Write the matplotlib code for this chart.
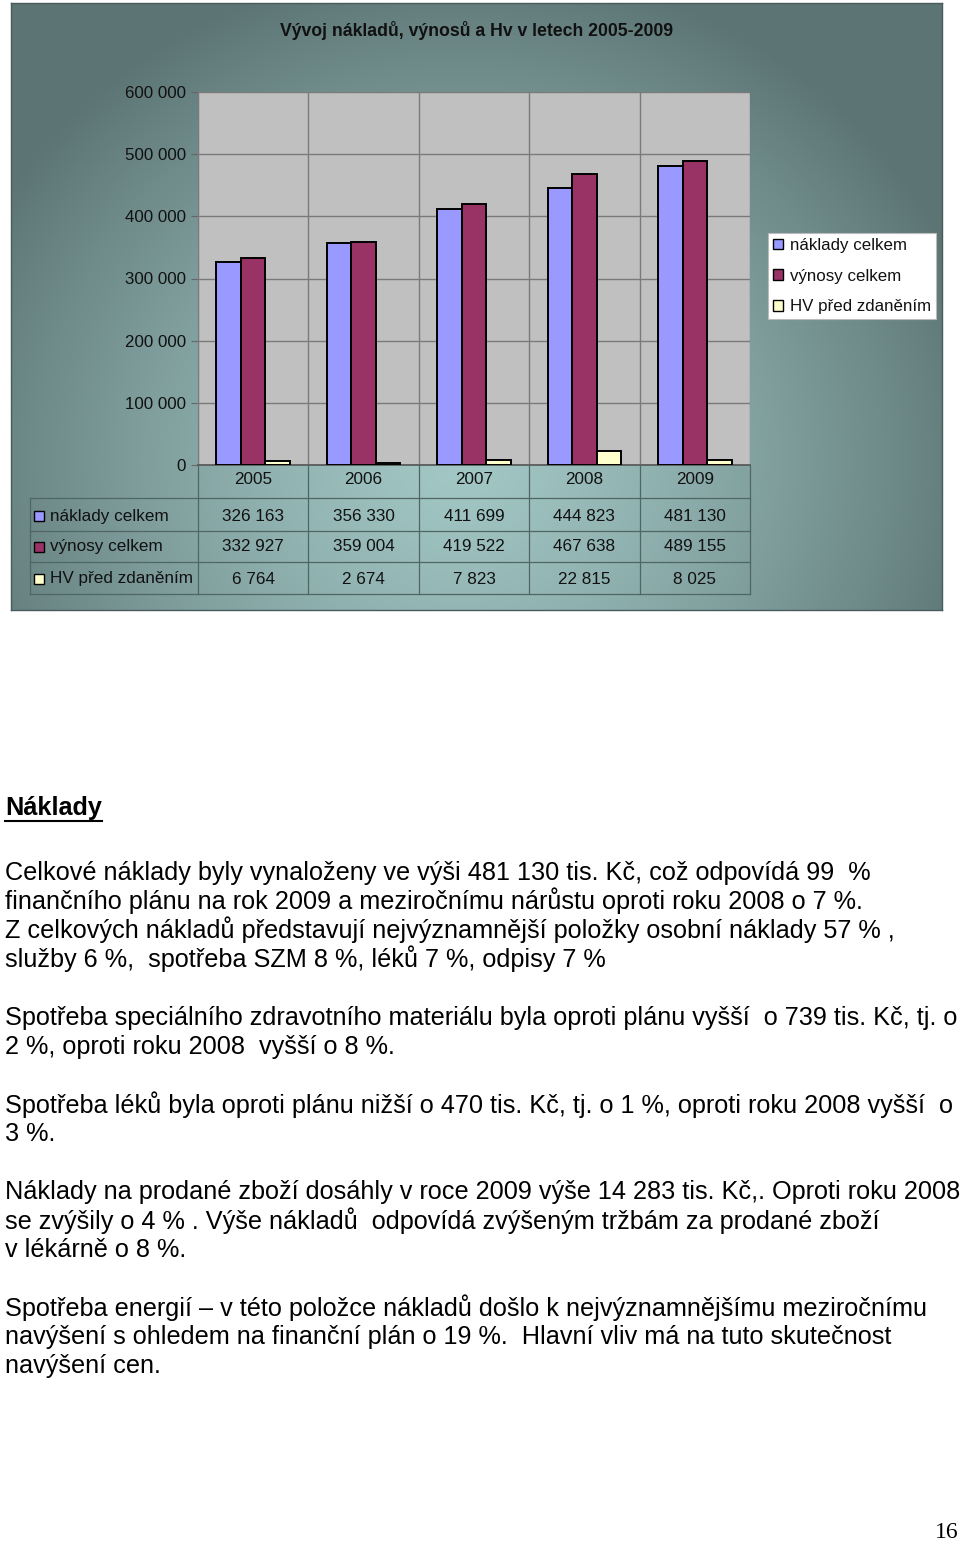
import numpy as np
import matplotlib
matplotlib.use("Agg")
import matplotlib.pyplot as plt
from matplotlib import font_manager
from matplotlib.transforms import blended_transform_factory
from matplotlib.patches import Rectangle

# ---------------- data ----------------
years = ["2005", "2006", "2007", "2008", "2009"]
naklady = [326163, 356330, 411699, 444823, 481130]
vynosy = [332927, 359004, 419522, 467638, 489155]
hv = [6764, 2674, 7823, 22815, 8025]
series_names = ["náklady celkem", "výnosy celkem", "HV před zdaněním"]
series_colors = ["#9999FF", "#993366", "#FFFFCC"]
y_ticks = [0, 100000, 200000, 300000, 400000, 500000, 600000]
title = "Vývoj nákladů, výnosů a Hv v letech 2005-2009"

heading = "Náklady"
paragraphs = [
    ["Celkové náklady byly vynaloženy ve výši 481 130 tis. Kč, což odpovídá 99  %",
     "finančního plánu na rok 2009 a meziročnímu nárůstu oproti roku 2008 o 7 %.",
     "Z celkových nákladů představují nejvýznamnější položky osobní náklady 57 % ,",
     "služby 6 %,  spotřeba SZM 8 %, léků 7 %, odpisy 7 %"],
    ["Spotřeba speciálního zdravotního materiálu byla oproti plánu vyšší  o 739 tis. Kč, tj. o",
     "2 %, oproti roku 2008  vyšší o 8 %."],
    ["Spotřeba léků byla oproti plánu nižší o 470 tis. Kč, tj. o 1 %, oproti roku 2008 vyšší  o",
     "3 %."],
    ["Náklady na prodané zboží dosáhly v roce 2009 výše 14 283 tis. Kč,. Oproti roku 2008",
     "se zvýšily o 4 % . Výše nákladů  odpovídá zvýšeným tržbám za prodané zboží",
     "v lékárně o 8 %."],
    ["Spotřeba energií – v této položce nákladů došlo k nejvýznamnějšímu meziročnímu",
     "navýšení s ohledem na finanční plán o 19 %.  Hlavní vliv má na tuto skutečnost",
     "navýšení cen."],
]
page_number = "16"

# ---------------- fonts ----------------
names = {f.name for f in font_manager.fontManager.ttflist}
SANS = "Liberation Sans" if "Liberation Sans" in names else "DejaVu Sans"
NARROW = "Liberation Sans Narrow" if "Liberation Sans Narrow" in names else SANS
SERIF = "Liberation Serif" if "Liberation Serif" in names else "DejaVu Serif"
plt.rcParams["font.family"] = [SANS, "DejaVu Sans"]

W, H = 960, 1544
fig = plt.figure(figsize=(W / 100, H / 100), dpi=100)
fig.patch.set_facecolor("white")


def fx(px):
    return px / W


def fy(py):
    return 1 - py / H


# ---------------- chart frame with gradient ----------------
fl, ft, fr, fb = 11, 3, 942, 610
bg = fig.add_axes([fx(fl), fy(fb), fx(fr - fl), (fb - ft) / H])
gx = np.linspace(fl, fr, 400)
gy = np.linspace(ft, fb, 300)
GX, GY = np.meshgrid(gx, gy)
d = np.sqrt(((GX - 460) / 540) ** 2 + ((GY - 460) / 500) ** 2)
d = np.clip(d, 0, 1) ** 1.3
c_in = np.array([0xA2, 0xC7, 0xC5]) / 255
c_out = np.array([0x5C, 0x75, 0x74]) / 255
img = c_in[None, None, :] * (1 - d[..., None]) + c_out[None, None, :] * d[..., None]
bg.imshow(img, extent=[0, 1, 0, 1], aspect="auto", origin="upper")
bg.set_xlim(0, 1)
bg.set_ylim(0, 1)
bg.set_xticks([])
bg.set_yticks([])
for s in bg.spines.values():
    s.set_color("#4a5a5a")
    s.set_linewidth(1.0)

fig.text(fx(477), fy(31), title, ha="center", va="center", fontsize=12.7,
         fontweight="bold", family=[NARROW, "DejaVu Sans"], color="#111111")

# ---------------- bar plot ----------------
pl, pt, pr, pb = 198, 92, 750, 465
ax = fig.add_axes([fx(pl), fy(pb), fx(pr - pl), (pb - pt) / H])
ax.set_facecolor("#C0C0C0")
x = np.arange(len(years))
bw = 0.222
for i, (vals, col) in enumerate(zip([naklady, vynosy, hv], series_colors)):
    ax.bar(x + (i - 1) * bw, vals, width=bw, color=col, edgecolor="black",
           linewidth=1.4, zorder=3, label=series_names[i])
ax.set_xlim(-0.5, len(years) - 0.5)
ax.set_ylim(0, 600000)
ax.set_yticks(y_ticks)
ax.set_yticklabels([f"{v:,}".replace(",", " ") for v in y_ticks])
ax.tick_params(axis="y", length=5, color="#666666", labelsize=12.2, pad=3.5,
               labelcolor="#111111")
ax.set_xticks([])
ax.grid(axis="y", color="#7a7a7a", linewidth=1.0, zorder=1)
for b in np.arange(-0.5, len(years), 1.0):
    ax.axvline(b, color="#7a7a7a", linewidth=1.0, zorder=1)
for s in ["top", "right"]:
    ax.spines[s].set_visible(False)
ax.spines["left"].set_color("#7a7a7a")
ax.spines["bottom"].set_color("#555555")
ax.spines["bottom"].set_linewidth(1.2)

# ---------------- data table under plot ----------------
tr = blended_transform_factory(ax.transData, fig.transFigure)
tf = fig.transFigure
year_y = 480
row_y = [516, 547, 579]
line_y = [498, 531, 562, 594]
tab_left = 30
for xi, yr in zip(x, years):
    fig.text(xi, fy(year_y), yr, transform=tr, ha="center", va="center",
             fontsize=12.3, color="#111111")
for r, vals in enumerate([naklady, vynosy, hv]):
    for xi, v in zip(x, vals):
        fig.text(xi, fy(row_y[r]), f"{v:,}".replace(",", " "), transform=tr,
                 ha="center", va="center", fontsize=12.3, color="#111111")
    fig.patches.append(Rectangle((fx(34), fy(row_y[r] + 5)), fx(10), 10 / H,
                                 transform=tf, facecolor=series_colors[r],
                                 edgecolor="black", linewidth=1.0, zorder=5))
    fig.text(fx(50), fy(row_y[r]), series_names[r], ha="left", va="center",
             fontsize=12.3, color="#111111")
tab_line = "#4f6665"
for ly in line_y:
    fig.add_artist(plt.Line2D([fx(tab_left), fx(pr)], [fy(ly), fy(ly)],
                              transform=tf, color=tab_line, linewidth=0.9))
fig.add_artist(plt.Line2D([fx(tab_left), fx(tab_left)], [fy(line_y[0]), fy(line_y[-1])],
                          transform=tf, color=tab_line, linewidth=0.9))
for b in np.arange(-0.5, len(years), 1.0):
    fig.add_artist(plt.Line2D([b, b], [fy(pb), fy(line_y[-1])], transform=tr,
                              color=tab_line, linewidth=0.9))

# ---------------- legend ----------------
leg = fig.legend(loc="upper left", bbox_to_anchor=(fx(768), fy(233)),
                 frameon=True, fancybox=False, fontsize=12.2, handlelength=0.6,
                 handleheight=0.6, handletextpad=0.4, labelspacing=0.92,
                 borderpad=0.3, borderaxespad=0, framealpha=1.0)
leg.get_frame().set_edgecolor("#bbbbbb")
leg.get_frame().set_linewidth(0.8)
for t in leg.get_texts():
    t.set_color("#111111")
for h in leg.legend_handles:
    h.set_linewidth(1.0)

# ---------------- body text ----------------
fig.canvas.draw()
renderer = fig.canvas.get_renderer()
probe = fig.text(0, 0, paragraphs[0][0], fontsize=16)
wpx = probe.get_window_extent(renderer).width
probe.remove()
body_size = 16 * 865 / wpx

hd = fig.text(fx(5), fy(808), heading, ha="left", va="center", fontsize=body_size,
              fontweight="bold", color="black")
hw = hd.get_window_extent(renderer).width
fig.add_artist(plt.Line2D([fx(5), fx(5 + hw)], [fy(821), fy(821)], transform=tf,
                          color="black", linewidth=1.5))

para_y = [[873, 901, 930, 959], [1018, 1047], [1105, 1134],
          [1192, 1221, 1250], [1308, 1337, 1366]]
for lines, ys in zip(paragraphs, para_y):
    for line, yy in zip(lines, ys):
        fig.text(fx(5), fy(yy), line, ha="left", va="center", fontsize=body_size,
                 color="black")

fig.text(fx(959), fy(1532), page_number, ha="right", va="center", fontsize=17,
         family=[SERIF, "DejaVu Serif"], color="black")

fig.savefig("out.png", dpi=100)
